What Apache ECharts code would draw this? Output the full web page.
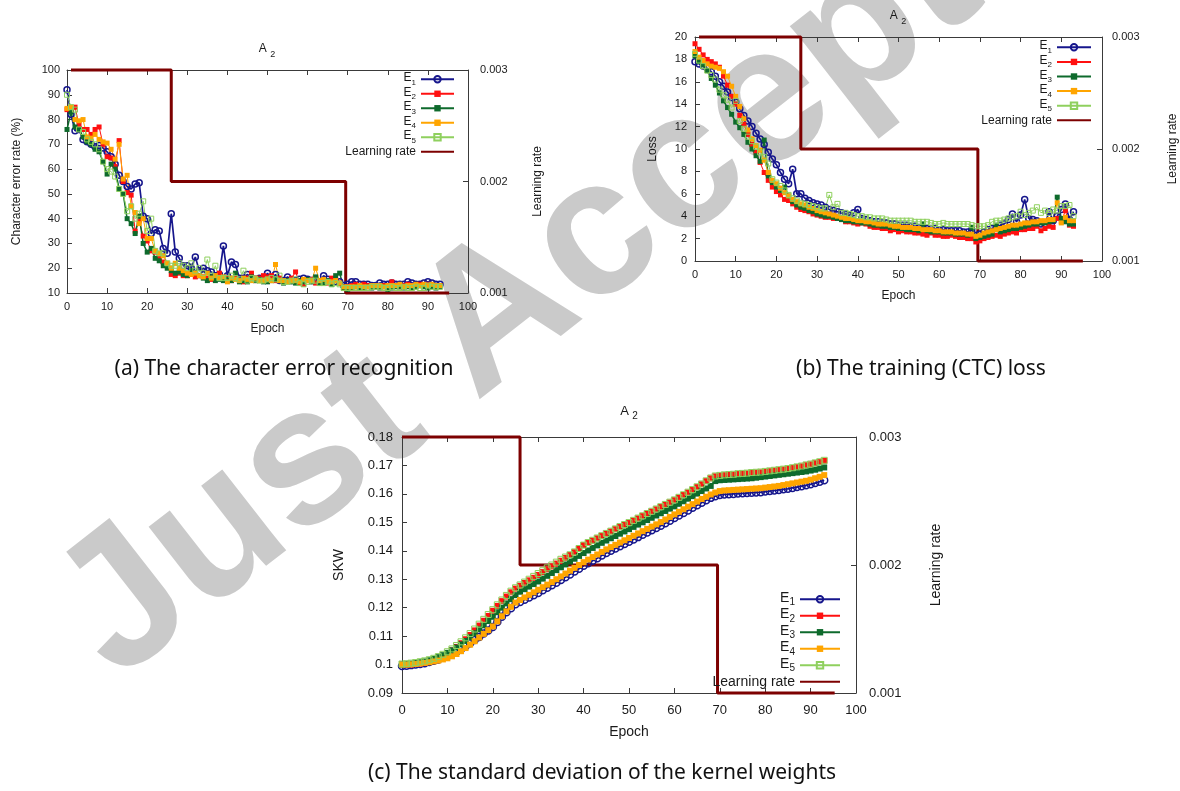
<!DOCTYPE html>
<html><head><meta charset="utf-8">
<script src="https://cdn.jsdelivr.net/npm/echarts@6/dist/echarts.min.js"></script>
<style>html,body{margin:0;padding:0;background:#fff}#c{width:1180px;height:791px}</style>
</head><body><div id="c"></div>
<script>
// ---------- DATA ----------
const epochs = [0,1,2,3,4,5,6,7,8,9,10,11,12,13,14,15,16,17,18,19,20,21,22,23,24,25,26,27,28,29,30,31,32,33,34,35,36,37,38,39,40,41,42,43,44,45,46,47,48,49,50,51,52,53,54,55,56,57,58,59,60,61,62,63,64,65,66,67,68,69,70,71,72,73,74,75,76,77,78,79,80,81,82,83,84,85,86,87,88,89,90,91,92,93];

// (a) character error rate (%)
const cerE1 = [92,82,75.5,76,72,71,70,69,69.5,68.5, 67,65,62,57.5,55,53,52,54,54.5,41, 40,34,35.5,35,28,26,42,26.5,24,21, 21,20,24.5,19,20,19,18.5,17,17.5,29, 17,22.5,21.5,16,16,17.5,16,15.5,16,15.5, 18,15.5,17.5,15,15,16.5,15,15,15.5,16, 15.5,15,15,14.5,17,15.5,15,14.5,14.5,13, 13.5,14.5,14.5,13.5,13.5,13.5,13,13,14,13.5, 13.5,14,13.5,13.5,13.5,14.5,14,13.5,13.5,14, 14.5,14,13.5,13.5];
const cerE2 = [84,84,85,78,76,76,74,76,77,70, 65,64.5,61,71.5,55,50.5,49.5,35,39,33, 31,27,26.5,24,22.5,21,17.5,17,18,17, 17,17.5,16.5,17,16.5,16,15.5,17,18,16, 16,15,16,15,14.5,16,18,15,16,17, 16.5,17,15,16,15,15,16,18.5,14,13.5, 15,15.5,14,15,14.5,14,16,15,14,12, 12.5,13,13.5,13,13.5,13,12.5,13,13,13, 13,14.5,13,12.5,13,13.5,13,13,13.5,13, 13.5,13,13,13];
const cerE3 = [76,83,77,76,73,71,70,68,67,63, 58,62,60,52,50,40,38,34,41,30, 26.5,28,24,23,21,20,19,18,18.5,17.5, 17,19,18,17,16,15,16.5,15,15.5,15, 15.5,15,18,14.5,15,14.5,16.5,15,15.5,14.5, 14.5,15,15.5,15,14,15,14.5,14,15,14.5, 15.5,14.5,16.5,14,14,15,13.5,17,18,12, 11.5,12,12.5,12,12,12.5,12,12.5,12,12.5, 11.5,12,12.5,12.5,12,12.5,12,12.5,13,12.5, 12,12.5,12,12.5];
const cerE4 = [84.5,85,80,79.5,80,73,72.5,74,72,71, 70.5,68,64,70,56,57.5,45,42.5,38,40, 32,32,27,26,25,22,20,22,20,19, 18,17.5,18,17,16.5,18,16,17,16,16.5, 14.5,16,15.5,15,16,15.5,15,16,15,15, 15.5,15,21.5,15,15,14.5,15,15,14.5,15.5, 15,15,20,15,15.5,14.5,14.5,15,14,12.5, 12.5,12.5,12.5,13,12.5,12.5,13,13,13,12.5, 13,13,13,13.5,12.5,13,13,13.5,13,13.5, 13,13.5,13,13];
const cerE5 = [90,85,84,76,75,72,71,70,68,63, 60,59,57,52,50,43,45,40,42,47, 35,40,27,26,26,22,21,21,22,21, 20,22,19,20,18,23.5,17,21,16,16, 16,17,16,15.5,19,15,16,15.5,15,15, 15.5,16,15.5,17,14.5,14.5,15,15.5,14,13.5, 14.5,15,15,14,14,14.5,13.5,14,13.5,12, 12,12,12,12,12,12,12.5,12.5,12.5,12, 12,12.5,12,12,12.5,12,12,12.5,12,12, 13,12.5,12.5,12.5];

// (b) training CTC loss
const lossE1 = [17.8,17.6,17.4,17.2,16.9,16.5,16.0,15.6,15.1,14.6, 14.2,13.6,13.0,12.5,12.0,11.4,10.9,10.4,9.7,9.1, 8.6,7.9,7.3,6.9,8.2,6.0,6.0,5.6,5.4,5.2, 5.1,5.0,4.8,4.6,4.5,4.4,4.3,4.2,4.1,4.3, 4.6,3.8,3.7,3.6,3.5,3.5,3.4,3.4,3.3,3.3, 3.2,3.2,3.2,3.1,3.1,3.0,3.0,2.9,2.9,2.9, 2.8,2.8,2.7,2.7,2.7,2.7,2.6,2.6,2.8,2.3, 2.4,2.6,2.8,2.9,3.0,3.2,3.3,3.7,4.2,3.5, 4.1,5.5,3.8,3.7,3.6,3.3,3.3,4.4,3.6,4.0, 4.6,5.1,3.7,4.4];
const lossE2 = [19.4,18.9,18.4,18.0,17.8,17.6,17.3,16.5,15.7,14.7, 14.0,13.0,12.2,11.3,10.4,9.7,8.8,7.9,7.2,6.6, 6.2,5.9,5.5,5.4,5.1,4.8,4.6,4.5,4.4,4.2, 4.1,4.0,3.9,3.9,3.8,3.8,3.7,3.5,3.5,3.4, 3.3,3.4,3.3,3.1,3.0,3.0,2.9,2.9,2.7,2.8, 2.6,2.7,2.6,2.6,2.5,2.5,2.4,2.3,2.5,2.3, 2.3,2.2,2.2,2.3,2.2,2.1,2.1,2.0,2.0,1.7, 1.8,2.0,2.1,2.2,2.3,2.2,2.4,2.5,2.6,2.5, 2.8,2.8,2.9,2.9,3.1,2.7,2.9,3.1,3.0,3.8, 3.5,4.5,3.2,3.1];
const lossE3 = [18.3,17.8,17.5,17.0,16.3,15.7,15.0,14.3,13.7,13.1, 12.4,11.9,11.3,10.6,10.0,9.4,8.9,10.8,7.6,7.0, 6.6,6.3,6.6,5.8,5.3,5.0,4.8,4.7,4.5,4.4, 4.2,4.1,4.0,4.0,3.9,3.8,3.7,3.6,3.6,3.5, 3.5,3.4,3.4,3.3,3.2,3.2,3.1,3.1,3.0,3.0, 2.9,2.9,2.8,2.8,2.8,2.7,3.3,2.7,2.6,2.6, 2.6,2.5,2.5,2.5,2.4,2.4,2.4,2.3,3.0,2.0, 2.1,2.2,2.3,2.4,3.2,2.6,2.7,2.8,2.9,2.9, 3.0,3.1,3.2,3.3,3.3,3.4,3.4,3.5,3.6,5.7, 3.8,3.5,3.3,3.3];
const lossE4 = [18.7,18.2,17.9,17.6,17.4,17.3,17.2,16.9,16.5,15.6, 14.7,13.8,12.7,11.7,10.9,10.3,9.9,9.0,7.9,7.2, 6.9,6.5,6.1,5.8,5.5,5.3,5.1,5.0,4.8,4.7, 4.5,4.4,4.3,4.2,4.1,4.0,3.9,3.8,3.8,3.7, 3.6,3.6,3.5,3.5,3.4,3.3,3.3,3.3,3.2,3.1, 3.1,3.0,3.0,3.0,2.9,2.9,2.8,2.8,2.8,2.7, 2.7,2.6,2.6,2.6,2.5,2.5,2.5,2.4,2.4,2.2, 2.3,2.5,2.6,2.7,2.8,2.9,3.0,3.1,3.2,3.2, 3.3,3.4,3.4,3.5,3.5,3.6,3.6,3.7,3.7,5.2, 3.4,3.9,3.6,3.6];
const lossE5 = [18.5,17.9,17.4,17.0,16.6,16.2,15.3,14.8,14.4,13.7, 14.3,12.5,11.8,11.1,10.7,10.2,9.7,9.3,8.7,7.3, 7.0,6.7,6.3,5.9,5.6,5.4,5.2,5.1,5.0,4.9, 4.8,4.7,4.7,5.9,4.8,5.1,4.3,4.3,4.2,4.1, 4.0,4.0,3.9,3.9,3.8,3.8,3.8,3.7,3.6,3.6, 3.6,3.6,3.6,3.6,3.5,3.5,3.5,3.5,3.4,3.3, 3.3,3.4,3.3,3.3,3.3,3.3,3.3,3.3,3.2,3.1, 3.1,3.1,3.2,3.5,3.6,3.6,3.7,3.8,3.9,4.0, 4.4,4.1,4.3,4.5,4.8,4.3,4.5,4.3,4.6,4.5, 4.9,4.9,5.0,4.0];

// (c) standard deviation of kernel weights (SKW)
const skwE1 = [0.0995,0.0996,0.0998,0.1000,0.1002,0.1005,0.1009,0.1013,0.1018,0.1024, 0.1030,0.1037,0.1045,0.1054,0.1064,0.1075,0.1086,0.1097,0.1109,0.1120, 0.1132,0.1150,0.1168,0.1184,0.1198,0.1212,0.1220,0.1228,0.1236,0.1244, 0.1252,0.1261,0.1270,0.1279,0.1288,0.1297,0.1307,0.1317,0.1327,0.1337, 0.1347,0.1356,0.1365,0.1374,0.1383,0.1392,0.1400,0.1408,0.1416,0.1424, 0.1432,0.1440,0.1448,0.1456,0.1464,0.1472,0.1480,0.1488,0.1497,0.1506, 0.1515,0.1524,0.1533,0.1542,0.1551,0.1560,0.1569,0.1578,0.1586,0.1592, 0.1596,0.1598,0.1599,0.1600,0.1601,0.1602,0.1603,0.1604,0.1605,0.1606, 0.1608,0.1610,0.1612,0.1614,0.1616,0.1618,0.1621,0.1624,0.1627,0.1630, 0.1634,0.1638,0.1643,0.1648];
const skwE2 = [0.1000,0.0999,0.1000,0.1002,0.1004,0.1007,0.1011,0.1016,0.1022,0.1030, 0.1040,0.1050,0.1062,0.1075,0.1089,0.1104,0.1120,0.1137,0.1154,0.1171, 0.1189,0.1206,0.1223,0.1239,0.1254,0.1267,0.1277,0.1287,0.1296,0.1305, 0.1315,0.1325,0.1335,0.1345,0.1355,0.1365,0.1375,0.1385,0.1395,0.1408, 0.1420,0.1428,0.1436,0.1444,0.1452,0.1460,0.1468,0.1476,0.1484,0.1491, 0.1498,0.1506,0.1514,0.1522,0.1530,0.1538,0.1546,0.1554,0.1562,0.1570, 0.1578,0.1587,0.1596,0.1605,0.1614,0.1624,0.1634,0.1645,0.1655,0.1662, 0.1664,0.1666,0.1667,0.1668,0.1670,0.1671,0.1672,0.1674,0.1675,0.1676, 0.1678,0.1680,0.1682,0.1684,0.1686,0.1688,0.1691,0.1694,0.1697,0.1701, 0.1704,0.1708,0.1712,0.1716];
const skwE3 = [0.1000,0.1001,0.1003,0.1005,0.1008,0.1011,0.1015,0.1020,0.1026,0.1033, 0.1041,0.1050,0.1060,0.1071,0.1083,0.1096,0.1110,0.1124,0.1138,0.1153, 0.1168,0.1184,0.1200,0.1215,0.1230,0.1244,0.1256,0.1265,0.1274,0.1283, 0.1292,0.1302,0.1312,0.1322,0.1332,0.1342,0.1352,0.1362,0.1372,0.1382, 0.1392,0.1401,0.1410,0.1419,0.1428,0.1436,0.1444,0.1452,0.1460,0.1468, 0.1476,0.1484,0.1492,0.1500,0.1508,0.1516,0.1524,0.1532,0.1540,0.1548, 0.1556,0.1565,0.1574,0.1583,0.1592,0.1601,0.1610,0.1619,0.1628,0.1645, 0.1648,0.1649,0.1650,0.1651,0.1652,0.1653,0.1654,0.1655,0.1657,0.1659, 0.1661,0.1663,0.1665,0.1667,0.1669,0.1671,0.1673,0.1675,0.1677,0.1679, 0.1682,0.1685,0.1689,0.1693];
const skwE4 = [0.1000,0.1000,0.1001,0.1002,0.1004,0.1006,0.1008,0.1011,0.1014,0.1018, 0.1022,0.1029,0.1037,0.1047,0.1058,0.1070,0.1082,0.1095,0.1108,0.1121, 0.1134,0.1152,0.1170,0.1187,0.1203,0.1218,0.1227,0.1236,0.1245,0.1254, 0.1263,0.1272,0.1281,0.1290,0.1300,0.1310,0.1320,0.1330,0.1340,0.1350, 0.1360,0.1369,0.1378,0.1387,0.1396,0.1405,0.1413,0.1421,0.1429,0.1437, 0.1445,0.1453,0.1461,0.1469,0.1477,0.1485,0.1493,0.1501,0.1510,0.1519, 0.1528,0.1537,0.1546,0.1555,0.1564,0.1573,0.1582,0.1590,0.1598,0.1605, 0.1610,0.1612,0.1613,0.1614,0.1615,0.1616,0.1617,0.1618,0.1619,0.1620, 0.1622,0.1624,0.1626,0.1628,0.1631,0.1634,0.1637,0.1640,0.1643,0.1646, 0.1650,0.1655,0.1660,0.1666];
const skwE5 = [0.1002,0.1003,0.1005,0.1007,0.1010,0.1013,0.1017,0.1022,0.1028,0.1036, 0.1045,0.1055,0.1067,0.1080,0.1094,0.1109,0.1125,0.1142,0.1159,0.1176, 0.1193,0.1210,0.1227,0.1243,0.1258,0.1270,0.1280,0.1290,0.1300,0.1310, 0.1320,0.1330,0.1340,0.1350,0.1360,0.1370,0.1378,0.1386,0.1396,0.1408, 0.1420,0.1429,0.1437,0.1445,0.1453,0.1461,0.1469,0.1477,0.1485,0.1492, 0.1499,0.1507,0.1515,0.1523,0.1531,0.1539,0.1547,0.1555,0.1563,0.1571, 0.1579,0.1588,0.1597,0.1606,0.1615,0.1625,0.1635,0.1646,0.1656,0.1663, 0.1665,0.1667,0.1668,0.1669,0.1671,0.1672,0.1673,0.1675,0.1676,0.1677, 0.1679,0.1681,0.1683,0.1685,0.1687,0.1689,0.1692,0.1695,0.1698,0.1702, 0.1705,0.1709,0.1713,0.1718];

// learning-rate schedule (epoch of each corner, value)
const lrEpochs = [1, 26, 26, 69.5, 69.5, 95.3];
const lrEpochsC = [0, 26, 26, 69.5, 69.5, 95.3];
const lrValues = [0.003, 0.003, 0.002, 0.002, 0.001, 0.001];

const legendNames = ['E1','E2','E3','E4','E5','Learning rate'];
const titles = ['A2','A2','A2'];
const captions = ['(a) The character error recognition','(b) The training (CTC) loss','(c) The standard deviation of the kernel weights'];
const watermark = 'Just Accepted';

// ---------- CHART ----------
const FF = '"Liberation Sans", Arial, sans-serif';
const TXT = '#1a1a1a';
const AX = '#3a3a3a';
const sty = {
  E1:{color:'#16168c', symbol:'circle', hollow:true, size:6, lw:1.7, bw:1.5},
  E2:{color:'#ff1010', symbol:'rect', size:5, lw:1},
  E3:{color:'#0e6a2c', symbol:'rect', size:5, lw:1.5},
  E4:{color:'#ffa500', symbol:'rect', size:5, lw:1},
  E5:{color:'#8fd05e', symbol:'rect', hollow:true, size:5, lw:1, bw:1}
};
function pairs(xs, ys){ return xs.map((x,i)=>[x, ys[i]]); }
function eSeries(name, ys, idx, big){
  const s = sty[name];
  const item = s.hollow ? {color:'rgba(255,255,255,0)', borderColor:s.color, borderWidth:s.bw} : {color:s.color, borderWidth:0};
  return {name, type:'line', xAxisIndex: idx*2, yAxisIndex: idx*2, data: pairs(epochs, ys),
    symbol: s.symbol, symbolSize: big ? s.size+1 : s.size, showAllSymbol:true,
    lineStyle:{color:s.color, width:s.lw}, itemStyle:item,
    silent:true, animation:false, clip:false, emphasis:{disabled:true}};
}
function lrSeries(idx, xs){
  return {name:'Learning rate', type:'line', xAxisIndex: idx*2, yAxisIndex: idx*2+1, data: pairs(xs, lrValues),
    symbol:'none', lineStyle:{color:'#7d0000', width:3}, itemStyle:{color:'#7d0000'},
    silent:true, animation:false, clip:false, emphasis:{disabled:true}, z:3};
}
const grids = [
  {left:67, top:70, width:401, height:223},
  {left:695, top:37, width:408, height:224},
  {left:402, top:437, width:454, height:256}
];
const fs = [11, 11, 13];
const nfs = [12, 12, 14];
function xAxes(g){
  const base = {gridIndex:g, type:'value', min:0, max:100, interval:10,
    axisLine:{show:true, onZero:false, lineStyle:{color:AX, width:1}},
    axisTick:{show:true, inside:true, length:5, lineStyle:{color:AX}},
    splitLine:{show:false}};
  return [
    Object.assign({}, base, {position:'bottom',
      axisLabel:{fontSize:fs[g], color:TXT, fontFamily:FF, margin:[8,8,11][g]},
      name:'Epoch', nameLocation:'middle', nameGap:[30,29,32][g],
      nameTextStyle:{fontSize:nfs[g], color:TXT, fontFamily:FF}}),
    Object.assign({}, base, {position:'top', axisLabel:{show:false}})
  ];
}
const yLeft = [
  {min:10, max:100, interval:10, name:'Character error rate (%)', gap:44},
  {min:0, max:20, interval:2, name:'Loss', gap:36},
  {min:0.09, max:0.18, interval:0.01, name:'SKW', gap:56}
];
const rGap = [64, 65, 73];
function yAxes(g){
  const L = yLeft[g];
  return [
    {gridIndex:g, type:'value', position:'left', min:L.min, max:L.max, interval:L.interval,
      axisLine:{show:true, onZero:false, lineStyle:{color:AX}},
      axisTick:{show:true, inside:true, length:5, lineStyle:{color:AX}},
      splitLine:{show:false},
      axisLabel:{fontSize:fs[g], color:TXT, fontFamily:FF, margin:[7,8,9][g]},
      name:L.name, nameLocation:'middle', nameGap:L.gap,
      nameTextStyle:{fontSize:nfs[g], color:TXT, fontFamily:FF}},
    {gridIndex:g, type:'value', position:'right', min:0.001, max:0.003, interval:0.001,
      axisLine:{show:true, onZero:false, lineStyle:{color:AX}},
      axisTick:{show:true, inside:true, length:5, lineStyle:{color:AX}},
      splitLine:{show:false},
      axisLabel:{fontSize:fs[g], color:TXT, fontFamily:FF, margin:[12,10,13][g], formatter:v=>v.toFixed(3)},
      name:'Learning rate', nameLocation:'middle', nameGap:rGap[g],
      nameTextStyle:{fontSize:nfs[g], color:TXT, fontFamily:FF}}
  ];
}
function legend(g, right, top, w, lh, fsz){
  return {data: legendNames.map(n => n==='Learning rate' ? {name:n, itemStyle:{opacity:0}} : n),
    orient:'vertical', align:'right', right, top, itemWidth:w, itemHeight:8, itemGap:0, padding:0,
    selectedMode:false,
    formatter: n => n.charAt(0)==='E' ? '{e|E}{s|' + n.slice(1) + '}' : n,
    textStyle:{fontSize:fsz, lineHeight:lh, color:TXT, fontFamily:FF,
      rich:{e:{fontSize:fsz, lineHeight:lh, verticalAlign:'top', fontFamily:FF, color:TXT},
            s:{fontSize:fsz-4, lineHeight:fsz-4, verticalAlign:'bottom', fontFamily:FF, color:TXT}}}};
}
function titleText(x, y, t, size){
  return {type:'text', x, y, z:10, silent:true,
    style:{text:'{a|' + t.charAt(0) + '} {b|' + t.slice(1) + '}', align:'center', verticalAlign:'middle',
      rich:{a:{fontSize:size, fontFamily:FF, fill:TXT, lineHeight:size+4, verticalAlign:'top'},
            b:{fontSize:size-3, fontFamily:FF, fill:TXT, lineHeight:size-3, verticalAlign:'bottom'}}}};
}
function caption(x, y, t){
  return {type:'text', x, y, z:10, silent:true,
    style:{text:t, align:'center', verticalAlign:'middle', font:'21px "Noto Sans", sans-serif', fill:'#111'}};
}
const names = ['E1','E2','E3','E4','E5'];
const setA = [cerE1, cerE2, cerE3, cerE4, cerE5];
const setB = [lossE1, lossE2, lossE3, lossE4, lossE5];
const setC = [skwE1, skwE2, skwE3, skwE4, skwE5];
const series = [];
names.forEach((n,i)=>series.push(eSeries(n, setA[i], 0, false)));
series.push(lrSeries(0, lrEpochs));
names.forEach((n,i)=>series.push(eSeries(n, setB[i], 1, false)));
series.push(lrSeries(1, lrEpochs));
names.forEach((n,i)=>series.push(eSeries(n, setC[i], 2, true)));
series.push(lrSeries(2, lrEpochsC));

const wmAngle = 38 * Math.PI / 180;
const option = {
  animation:false,
  backgroundColor:'#fff',
  grid: grids,
  xAxis: [].concat(xAxes(0), xAxes(1), xAxes(2)),
  yAxis: [].concat(yAxes(0), yAxes(1), yAxes(2)),
  legend: [legend(0, 725, 72, 33, 14.5, 12), legend(1, 88, 40, 34, 14.6, 12), legend(2, 339, 591, 40, 16.5, 14)],
  series,
  graphic: [
    {type:'text', x:84, y:640, rotation:wmAngle, z:-5, silent:true,
      style:{text:watermark, font:'bold 195px "Liberation Sans", Arial, sans-serif', fill:'#cacaca', align:'left', verticalAlign:'middle'}},
    titleText(267, 51, titles[0], 12),
    titleText(898, 18, titles[1], 12),
    titleText(629, 413, titles[2], 13),
    caption(284, 369, captions[0]),
    caption(921, 369, captions[1]),
    caption(602, 773, captions[2])
  ]
};
const chart = echarts.init(document.getElementById('c'), null, {renderer:'canvas'});
chart.setOption(option);
</script>
</body></html>
